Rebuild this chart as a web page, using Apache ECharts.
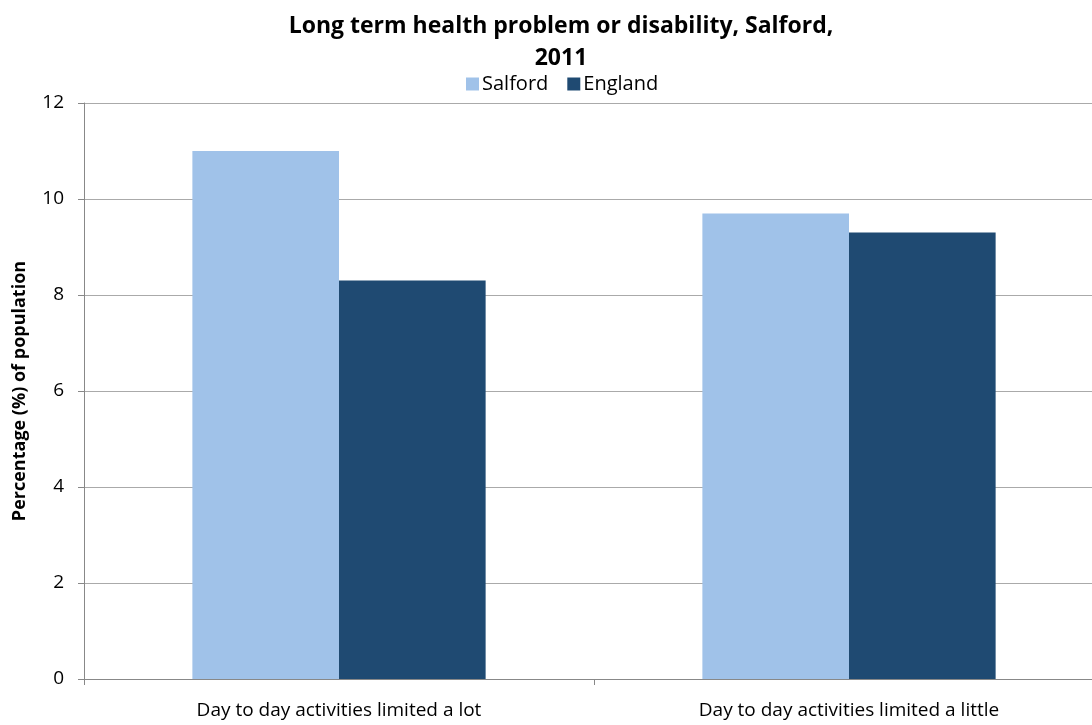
<!DOCTYPE html>
<html><head><meta charset="utf-8">
<script src="https://cdn.jsdelivr.net/npm/echarts@6/dist/echarts.min.js"></script>
<style>html,body{margin:0;padding:0;background:#fff;overflow:hidden}#c{width:1104px;height:725px}</style>
</head><body><div id="c"></div>
<script>
const categories = ['Day to day activities limited a lot', 'Day to day activities limited a little'];
const salford = [11.0, 9.7];
const england = [8.3, 9.3];
const yTicks = [0, 2, 4, 6, 8, 10, 12];
const F = '"Open Sans", Lato, sans-serif';
const chart = echarts.init(document.getElementById('c'));
chart.setOption({
  animation: false,
  title: {
    text: 'Long term health problem or disability, Salford,\n2011',
    left: 556, top: 5, textAlign: 'center',
    textStyle: { fontFamily: F, fontWeight: 'bold', fontSize: 23, color: '#000', lineHeight: 32 }
  },
  legend: {
    top: 69, left: 461, itemWidth: 13, itemHeight: 13, itemGap: 19,
    icon: 'rect',
    textStyle: { fontFamily: F, fontSize: 20, color: '#000', padding: [0, 0, 0, -2] },
    data: ['Salford', 'England']
  },
  grid: { left: 84, top: 103, width: 1020, height: 576, containLabel: false },
  xAxis: {
    type: 'category', data: categories,
    axisLine: { lineStyle: { color: '#888' } },
    axisTick: { show: true, length: 6, lineStyle: { color: '#888' } },
    axisLabel: { fontFamily: F, fontSize: 19, color: '#000', margin: 22 }
  },
  yAxis: {
    type: 'value', min: 0, max: 12, interval: 2,
    name: 'Percentage (%) of population', nameLocation: 'middle', nameGap: 55, nameRotate: 90,
    nameTextStyle: { fontFamily: F, fontWeight: 'bold', fontSize: 18, color: '#000' },
    axisLine: { show: true, lineStyle: { color: '#888' } },
    axisTick: { show: true, length: 6, lineStyle: { color: '#888' } },
    axisLabel: { fontFamily: F, fontSize: 19, color: '#000', margin: 20,
      formatter: v => yTicks.includes(v) ? String(v) : '' },
    splitLine: { lineStyle: { color: '#aaa' } }
  },
  series: [
    { name: 'Salford', type: 'bar', data: salford, barGap: '0%', barCategoryGap: '42.5%',
      itemStyle: { color: '#A0C2E9' } },
    { name: 'England', type: 'bar', data: england, barGap: '0%', barCategoryGap: '42.5%',
      itemStyle: { color: '#1F4A72' } }
  ]
});
</script></body></html>
